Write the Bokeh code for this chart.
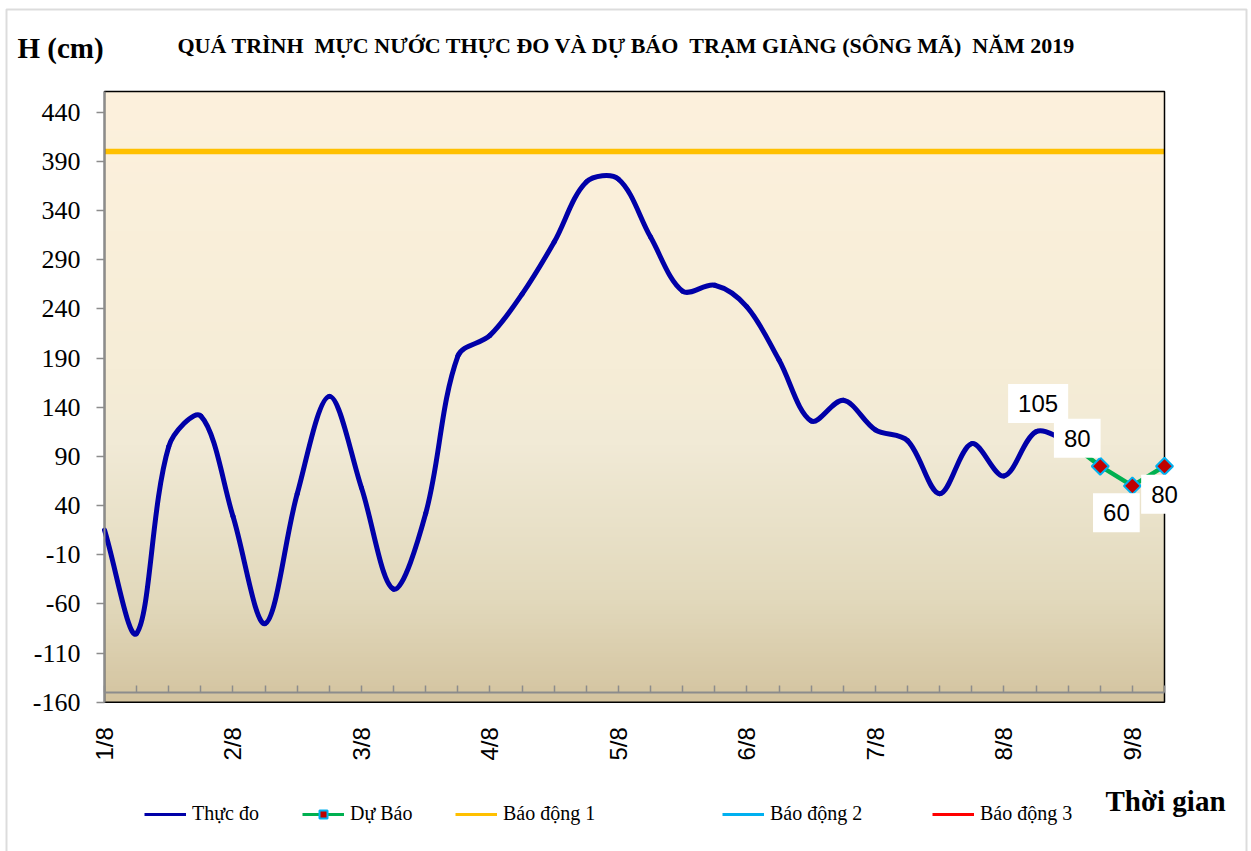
import math
import numpy as np
from bokeh.plotting import figure
from bokeh.models import (Range1d, FixedTicker, LinearAxis, Label, Legend, LegendItem,
                          ColumnDataSource, BoxAnnotation)
from bokeh.embed import file_html
from bokeh.resources import INLINE

# ---------------- data ----------------
day_labels = ["1/8", "2/8", "3/8", "4/8", "5/8", "6/8", "7/8", "8/8", "9/8"]
steps_per_day = 4          # 6-hourly observations
n_steps = 33               # axis length in 6-hour steps
observed = [15, -90, 100, 131, 29, -80, 52, 151, 58, -45, 32, 192, 213, 255, 308,
            369, 372, 313, 258, 264, 242, 188, 126, 147, 117, 106, 52, 103, 70, 115, 105]
forecast_idx = [30, 31, 32, 33]
forecast = [105, 80, 60, 80]
alarm1 = 400
y_ticks = [-160, -110, -60, -10, 40, 90, 140, 190, 240, 290, 340, 390, 440]
y_min, y_max = -160, 461
x_axis_at = -150

SERIF = "Liberation Serif"
SANS = "Liberation Sans"

# ---------------- layout (pixels) ----------------
W, H = 1251, 851
PL, PR, PB = 104.0, 1164.0, 701.7     # plot-area box on the canvas
PPY = 590.0 / 600.0                   # pixels per cm
ppx = (PR - PL) / n_steps
x_lo = -PL / ppx
x_hi = n_steps + (W - PR) / ppx
y_lo = y_min - (H - PB) / PPY
y_hi = y_min + PB / PPY

p = figure(width=W, height=H, output_backend="svg", toolbar_location=None,
           x_range=Range1d(x_lo, x_hi), y_range=Range1d(y_lo, y_hi),
           x_axis_type=None, y_axis_type=None,
           min_border=0, min_border_left=0, min_border_right=0,
           min_border_top=0, min_border_bottom=0)
p.grid.grid_line_color = None
p.outline_line_color = None
p.background_fill_color = "white"
p.border_fill_color = "white"

# outer chart border
p.add_layout(BoxAnnotation(left=6, right=1246, bottom=-10, top=H - 9,
                           left_units="screen", right_units="screen",
                           top_units="screen", bottom_units="screen",
                           fill_alpha=0, line_color="#8c8c8c", line_width=2))

# ---------------- background gradient ----------------
stops_v = [y_min, -57, 101, 177, y_max]
stops_c = [(212, 196, 160), (226, 217, 188), (241, 234, 214), (246, 237, 215), (253, 241, 221)]
nrow = 300
vals = np.linspace(y_min, y_max, nrow)
img = np.empty((nrow, 1), dtype=np.uint32)
view = img.view(dtype=np.uint8).reshape((nrow, 1, 4))
for k in range(3):
    view[:, 0, k] = np.interp(vals, stops_v, [c[k] for c in stops_c]).astype(np.uint8)
view[:, 0, 3] = 255
p.image_rgba(image=[img], x=0, y=y_min, dw=n_steps, dh=y_max - y_min)

# ---------------- alarm line ----------------
p.line(x=[0, n_steps], y=[alarm1, alarm1], line_color="#FFC000", line_width=5.5)

# plot-area border
p.quad(left=[0], right=[n_steps], bottom=[y_min], top=[y_max],
       fill_color=None, line_color="black", line_width=1.5)

# ---------------- axes ----------------
yax = LinearAxis(fixed_location=0, bounds=(y_min, y_max), ticker=FixedTicker(ticks=y_ticks),
                 major_label_overrides={v: str(v) for v in y_ticks},
                 major_label_text_font=SERIF, major_label_text_font_size="26px",
                 major_label_text_color="black", major_tick_out=8, major_tick_in=0,
                 major_tick_line_color="#8c8c8c", major_tick_line_width=1.5,
                 minor_tick_line_color=None, axis_line_color="#8c8c8c", axis_line_width=2,
                 major_label_standoff=16)
p.add_layout(yax, "left")

label_pos = [i * steps_per_day for i in range(len(day_labels))]
xax = LinearAxis(fixed_location=y_min, bounds=(0, n_steps), ticker=FixedTicker(ticks=label_pos),
                 major_label_overrides={pos: lab for pos, lab in zip(label_pos, day_labels)},
                 major_label_orientation=math.pi / 2, major_label_text_font=SANS,
                 major_label_text_font_size="24px", major_label_text_color="black",
                 axis_line_color=None, major_tick_line_color=None, minor_tick_line_color=None,
                 major_tick_out=0, major_tick_in=0, major_label_standoff=25)
p.add_layout(xax, "below")

tick_ax = LinearAxis(fixed_location=x_axis_at, bounds=(0, n_steps),
                     ticker=FixedTicker(ticks=list(range(n_steps + 1))),
                     major_tick_in=7, major_tick_out=0, major_tick_line_color="#8c8c8c",
                     major_tick_line_width=1.5, minor_tick_line_color=None,
                     axis_line_color="#8c8c8c", axis_line_width=2,
                     major_label_text_font_size="0px", major_label_standoff=0)
p.add_layout(tick_ax, "below")

# ---------------- smoothed observed line (Excel-like Bezier smoothing) ----------------
xs = np.arange(len(observed), dtype=float)
ys = np.asarray(observed, dtype=float)
n = len(xs)
xp = np.concatenate([[xs[0]], xs, [xs[-1]]])
yp = np.concatenate([[ys[0]], ys, [ys[-1]]])
seg = np.hypot(np.diff(xp) * ppx, np.diff(yp) * PPY)
Lprev = seg[:-1]
Lnext = seg[1:]
dx = xp[2:] - xp[:-2]
dy = yp[2:] - yp[:-2]
tot = Lprev + Lnext
safe = np.where(tot > 0, tot, 1)
fwd = np.where(tot > 0, Lnext / safe, 0) / 3.0
bwd = np.where(tot > 0, Lprev / safe, 0) / 3.0
bz = dict(
    x0=xs[:-1], y0=ys[:-1], x1=xs[1:], y1=ys[1:],
    cx0=xs[:-1] + dx[:-1] * fwd[:-1], cy0=ys[:-1] + dy[:-1] * fwd[:-1],
    cx1=xs[1:] - dx[1:] * bwd[1:], cy1=ys[1:] - dy[1:] * bwd[1:],
)
p.bezier(source=ColumnDataSource(bz), x0="x0", y0="y0", x1="x1", y1="y1",
         cx0="cx0", cy0="cy0", cx1="cx1", cy1="cy1",
         line_color="#0000A8", line_width=5, line_cap="round")

# ---------------- forecast ----------------
p.line(x=forecast_idx, y=forecast, line_color="#00B050", line_width=4.5)
p.scatter(x=forecast_idx, y=forecast, marker="square", angle=math.pi / 4, size=12,
          fill_color="#C00000", line_color="#00B0F0", line_width=2)

# data labels (white boxes)
lab_dx = [-30, -23, -16, 0]
lab_dy = [38, 28, -27, -28]
for xi, yi, ddx, ddy in zip(forecast_idx, forecast, lab_dx, lab_dy):
    p.add_layout(Label(x=xi, y=yi, x_offset=ddx, y_offset=ddy, text=str(yi),
                       text_font=SANS, text_font_size="24px", text_color="black",
                       text_align="center", text_baseline="middle",
                       background_fill_color="white", padding=(10, 11)))

# ---------------- texts ----------------
p.add_layout(Label(x=626, y=H - 45, x_units="screen", y_units="screen",
                   text="QUÁ TRÌNH \u00a0MỰC NƯỚC THỰC ĐO VÀ DỰ BÁO \u00a0TRẠM GIÀNG (SÔNG MÃ) \u00a0NĂM 2019",
                   text_font=SERIF, text_font_style="bold", text_font_size="22px",
                   text_align="center", text_baseline="middle", text_color="black"))
p.add_layout(Label(x=17, y=H - 47, x_units="screen", y_units="screen", text="H (cm)",
                   text_font=SERIF, text_font_style="bold", text_font_size="29px",
                   text_align="left", text_baseline="middle", text_color="black"))
p.add_layout(Label(x=1105, y=H - 800, x_units="screen", y_units="screen", text="Thời gian",
                   text_font=SERIF, text_font_style="bold", text_font_size="29px",
                   text_align="left", text_baseline="middle", text_color="black"))

# ---------------- legend ----------------
nan2 = [float("nan"), float("nan")]

def dummy_line(color):
    return p.line(x=nan2, y=nan2, line_color=color, line_width=3)

leg_specs = [
    ("Thực đo", [dummy_line("#0000A8")], 144),
    ("Dự Báo", [dummy_line("#00B050"),
                p.scatter(x=nan2, y=nan2, marker="square", angle=math.pi / 4, size=11,
                          fill_color="#C00000", line_color="#00B0F0", line_width=2)], 302),
    ("Báo động 1", [dummy_line("#FFC000")], 455),
    ("Báo động 2", [dummy_line("#00B0F0")], 722),
    ("Báo động 3", [dummy_line("#FF0000")], 932),
]
for text, rends, lx in leg_specs:
    lg = Legend(items=[LegendItem(label=text, renderers=rends)], location=(lx, H - 825),
                orientation="horizontal", border_line_color=None, background_fill_alpha=0,
                padding=0, margin=0, glyph_width=42, glyph_height=20, label_standoff=6,
                label_height=20, label_text_font=SERIF, label_text_font_size="20px",
                label_text_color="black")
    p.add_layout(lg)

open("out.html", "w").write(file_html(p, INLINE))
